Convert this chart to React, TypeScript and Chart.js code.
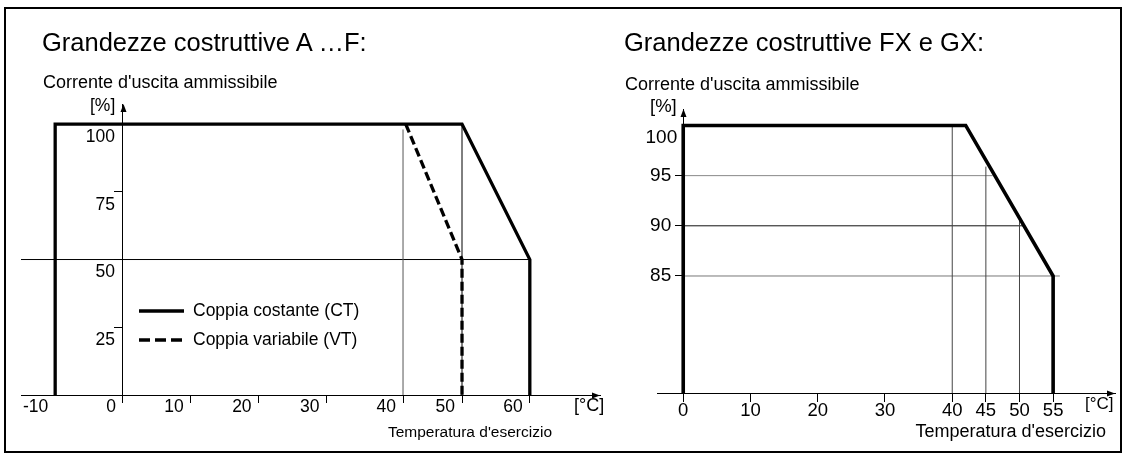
import React, { useEffect, useRef } from 'react';
import { Chart, registerables } from 'chart.js';

Chart.register(...registerables);

const FONT = "'Liberation Sans', Arial, Helvetica, sans-serif";
const W = 1125;
const H = 454;

// ---------- Left chart: Grandezze costruttive A …F ----------
const leftXTickPositions = [-10, 0, 10, 20, 30, 41.3, 50, 60];
const leftXTickLabels = ['-10', '0', '10', '20', '30', '40', '50', '60'];
const leftYTicks = [25, 50, 75, 100];
const leftYTickLabels = ['25', '50', '75', '100'];
const leftXMin = -15.04;
const leftXMax = 70.35;
const leftYMin = 0;
const leftYMax = 107.4;

const ctTemp = [-10, -10, 50, 60, 60];
const ctCurrent = [0, 100, 100, 50, 0];
const vtTemp = [41.7, 50, 50];
const vtCurrent = [100, 50, 0];

const leftGuide40Temp = [41.3, 41.3];
const leftGuide40Current = [0, 98];
const leftGuide50Temp = [50, 50];
const leftGuide50Current = [0, 100];
const leftGuideHTemp = [leftXMin, 60];
const leftGuideHCurrent = [50, 50];

// ---------- Right chart: Grandezze costruttive FX e GX ----------
const rightXTicks = [0, 10, 20, 30, 40, 45, 50, 55];
const rightXTickLabels = ['0', '10', '20', '30', '40', '45', '50', '55'];
const rightYTicks = [85, 90, 95];
const rightYTickLabels = ['85', '90', '95'];
const rightYTopTick = [100];
const rightYTopLabel = ['100'];
const rightXMin = -3.9;
const rightXMax = 64.2;
const rightYMin = 73.34;
const rightYMax = 101.64;

const fxTemp = [0, 0, 42, 55, 55];
const fxCurrent = [rightYMin, 100, 100, 85, rightYMin];

const rightV40Temp = [40, 40];
const rightV40Current = [rightYMin, 100];
const rightV45Temp = [45, 45];
const rightV45Current = [rightYMin, 95.9];
const rightV50Temp = [50, 50];
const rightV50Current = [rightYMin, 90.8];
const rightH95Temp = [0, 46];
const rightH95Current = [95, 95];
const rightH90Temp = [0, 50.7];
const rightH90Current = [90, 90];
const rightH85Temp = [0, 56];
const rightH85Current = [85, 85];

// ---------- layout (pixels of each plot area) ----------
const leftArea = { left: 21, right: 600, top: 104, bottom: 395 };
const rightArea = { left: 657, right: 1115, top: 109, bottom: 393 };
const X_AXIS_H = 30;

function line(xs: number[], ys: number[], opts: any = {}) {
  return {
    data: xs.map((x, i) => ({ x, y: ys[i] })),
    borderColor: '#000',
    borderWidth: 1,
    pointRadius: 0,
    fill: false,
    tension: 0,
    clip: false,
    borderJoinStyle: 'miter',
    borderCapStyle: 'butt',
    ...opts,
  };
}

const arrowPlugin = {
  id: 'axisArrows',
  afterDraw(chart: any) {
    const { ctx, chartArea, scales } = chart;
    const yAxisX = Math.round(scales.x.getPixelForValue(0)) + 0.5;
    const xAxisY = Math.round(scales.y.getPixelForValue(scales.y.min)) + 0.5;
    ctx.save();
    ctx.fillStyle = '#000';
    ctx.beginPath();
    ctx.moveTo(chartArea.right, xAxisY);
    ctx.lineTo(chartArea.right - 8, xAxisY - 3);
    ctx.lineTo(chartArea.right - 8, xAxisY + 3);
    ctx.closePath();
    ctx.fill();
    ctx.beginPath();
    ctx.moveTo(yAxisX, chartArea.top);
    ctx.lineTo(yAxisX - 3, chartArea.top + 8);
    ctx.lineTo(yAxisX + 3, chartArea.top + 8);
    ctx.closePath();
    ctx.fill();
    ctx.restore();
  },
};

function padFor(area: any) {
  return { left: area.left, right: W - area.right, top: area.top, bottom: H - area.bottom - X_AXIS_H };
}

function xScale(min: number, max: number, ticks: number[], labels: string[], align: string, labelOffset: number, size: number, tickLen: number, pad: number, hideFirstTick: boolean) {
  return {
    type: 'linear',
    position: 'bottom',
    min,
    max,
    afterBuildTicks: (s: any) => { s.ticks = ticks.map((v) => ({ value: v })); },
    afterFit: (s: any) => { s.height = X_AXIS_H; },
    grid: {
      display: true,
      drawOnChartArea: false,
      drawTicks: true,
      tickLength: tickLen,
      color: '#000',
      tickColor: (c: any) => (hideFirstTick && c.index === 0 ? 'rgba(0,0,0,0)' : '#000'),
      lineWidth: 1,
    },
    border: { display: true, color: '#000', width: 1 },
    ticks: {
      autoSkip: false,
      maxRotation: 0,
      minRotation: 0,
      align,
      labelOffset,
      padding: pad,
      color: '#000',
      font: { family: FONT, size, lineHeight: 1 },
      callback: (_v: any, i: number) => labels[i],
    },
  };
}

function yMarkScale(min: number, max: number, ticks: number[]) {
  return {
    type: 'linear',
    position: { x: 0 },
    min,
    max,
    afterBuildTicks: (s: any) => { s.ticks = ticks.map((v) => ({ value: v })); },
    grid: { display: true, drawOnChartArea: false, drawTicks: true, tickLength: 8, color: '#000', lineWidth: 1 },
    border: { display: true, color: '#000', width: 1 },
    ticks: { display: false },
  };
}

function yLabelScale(xPos: number, min: number, max: number, ticks: number[], labels: string[], offset: number, size: number) {
  return {
    type: 'linear',
    position: { x: xPos },
    min,
    max,
    afterBuildTicks: (s: any) => { s.ticks = ticks.map((v) => ({ value: v })); },
    grid: { display: false, drawTicks: false, tickLength: 0 },
    border: { display: false },
    ticks: {
      display: true,
      autoSkip: false,
      padding: 0,
      labelOffset: offset,
      color: '#000',
      font: { family: FONT, size, lineHeight: 1 },
      callback: (_v: any, i: number) => labels[i],
    },
  };
}

function baseOptions(area: any, scales: any) {
  return {
    responsive: false,
    animation: false,
    events: [],
    layout: { padding: padFor(area) },
    plugins: { legend: { display: false }, tooltip: { enabled: false }, title: { display: false } },
    scales,
  };
}

function leftConfig(): any {
  const pxPerUnit = (leftArea.right - leftArea.left) / (leftXMax - leftXMin);
  return {
    type: 'line',
    data: {
      datasets: [
        line(ctTemp, ctCurrent, { borderWidth: 3.3, order: 0 }),
        line(vtTemp, vtCurrent, { borderWidth: 3.3, borderDash: [9, 4], order: 1 }),
        line(leftGuide40Temp, leftGuide40Current, { borderColor: '#555', order: 3 }),
        line(leftGuide50Temp, leftGuide50Current, { order: 3 }),
        line(leftGuideHTemp, leftGuideHCurrent, { order: 3 }),
      ],
    },
    options: baseOptions(leftArea, {
      x: xScale(leftXMin, leftXMax, leftXTickPositions, leftXTickLabels, 'end', -7, 17.5, 8, -5, true),
      y: yMarkScale(leftYMin, leftYMax, leftYTicks),
      yl: yLabelScale(-8 / pxPerUnit, leftYMin, leftYMax, leftYTicks, leftYTickLabels, 13, 17.5),
    }),
    plugins: [arrowPlugin],
  };
}

function rightConfig(): any {
  const pxPerUnit = (rightArea.right - rightArea.left) / (rightXMax - rightXMin);
  return {
    type: 'line',
    data: {
      datasets: [
        line(fxTemp, fxCurrent, { borderWidth: 3.6, order: 0 }),
        line(rightV40Temp, rightV40Current, { borderColor: '#444', order: 3 }),
        line(rightV45Temp, rightV45Current, { borderColor: '#444', order: 3 }),
        line(rightV50Temp, rightV50Current, { borderColor: '#444', order: 3 }),
        line(rightH95Temp, rightH95Current, { borderColor: '#888', order: 3 }),
        line(rightH90Temp, rightH90Current, { borderColor: '#111', order: 3 }),
        line(rightH85Temp, rightH85Current, { borderColor: '#777', order: 3 }),
      ],
    },
    options: baseOptions(rightArea, {
      x: xScale(rightXMin, rightXMax, rightXTicks, rightXTickLabels, 'center', 0, 18.5, 9, 0, false),
      y: yMarkScale(rightYMin, rightYMax, rightYTicks),
      yl: yLabelScale(-12 / pxPerUnit, rightYMin, rightYMax, rightYTicks, rightYTickLabels, 0, 19),
      yt: yLabelScale(-6 / pxPerUnit, rightYMin, rightYMax, rightYTopTick, rightYTopLabel, 12, 19),
    }),
    plugins: [arrowPlugin],
  };
}

function ChartCanvas({ make }: { make: () => any }) {
  const ref = useRef<HTMLCanvasElement>(null);
  useEffect(() => {
    const chart = new Chart(ref.current as HTMLCanvasElement, make());
    return () => chart.destroy();
  }, []);
  return (
    <canvas
      ref={ref}
      width={W}
      height={H}
      style={{ position: 'absolute', left: 0, top: 0, width: W, height: H }}
    />
  );
}

function Txt({ x, right, base, size, children }: any) {
  const style: any = {
    position: 'absolute',
    top: base - 0.8465 * size,
    fontFamily: FONT,
    fontSize: size,
    lineHeight: `${size}px`,
    whiteSpace: 'nowrap',
    color: '#000',
  };
  if (right !== undefined) style.right = W - right;
  else style.left = x;
  return <div style={style}>{children}</div>;
}

export default function App() {
  return (
    <div style={{ position: 'absolute', left: 0, top: 0, width: W, height: H, background: '#fff', overflow: 'hidden' }}>
      <div style={{ position: 'absolute', left: 4, top: 7, width: 1118, height: 446, border: '2px solid #000', boxSizing: 'border-box' }} />
      <ChartCanvas make={leftConfig} />
      <ChartCanvas make={rightConfig} />

      <Txt x={42} base={52} size={25.5}>Grandezze costruttive A …F:</Txt>
      <Txt x={43} base={88} size={18}>Corrente d'uscita ammissibile</Txt>
      <Txt x={90} base={112} size={17.5}>[%]</Txt>
      <Txt right={552} base={437} size={15.5}>Temperatura d'esercizio</Txt>
      <Txt x={574} base={411} size={18}>[°C]</Txt>

      <svg width={50} height={44} style={{ position: 'absolute', left: 139, top: 305 }}>
        <line x1={0} y1={6} x2={45} y2={6} stroke="#000" strokeWidth={3.3} />
        <line x1={0} y1={35} x2={45} y2={35} stroke="#000" strokeWidth={3.3} strokeDasharray="11 5" />
      </svg>
      <Txt x={193} base={317} size={17.5}>Coppia costante (CT)</Txt>
      <Txt x={193} base={346} size={17.5}>Coppia variabile (VT)</Txt>

      <Txt x={624} base={52} size={25.5}>Grandezze costruttive FX e GX:</Txt>
      <Txt x={625} base={90} size={18}>Corrente d'uscita ammissibile</Txt>
      <Txt x={650} base={112.5} size={18.5}>[%]</Txt>
      <Txt right={1106} base={437} size={18}>Temperatura d'esercizio</Txt>
      <Txt x={1085} base={409.5} size={17}>[°C]</Txt>
    </div>
  );
}
